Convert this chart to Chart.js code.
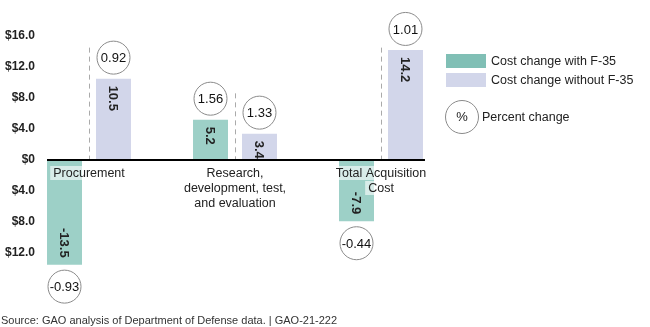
<!DOCTYPE html>
<html>
<head>
<meta charset="utf-8">
<script src="https://cdn.jsdelivr.net/npm/chart.js@4"></script>
<style>
  html, body { margin: 0; padding: 0; background: #fff; }
  #wrap { width: 650px; height: 327px; position: relative; }
</style>
</head>
<body>
<div id="wrap"><canvas id="c"></canvas></div>
<script>
// ---- data ----
const categories = [["Procurement"], ["Research,", "development, test,", "and evaluation"], ["Total Acquisition", "Cost"]];
const seriesNames = ["Cost change with F-35", "Cost change without F-35"];
const withF35 = [-13.5, 5.2, -7.9];
const withoutF35 = [10.5, 3.4, 14.2];
const pctWithF35 = [-0.93, 1.56, -0.44];
const pctWithoutF35 = [0.92, 1.33, 1.01];
const yTicks = [-12, -8, -4, 0, 4, 8, 12, 16];
const dividerTop = [14.5, 8.6, 14.5];
const percentLegend = "Percent change";
const sourceNote = "Source: GAO analysis of Department of Defense data. | GAO-21-222";

// ---- styles ----
const FONT = "'Liberation Sans', Arial, Helvetica, sans-serif";
const tealBar = '#9dd0c7';
const tealKey = '#80bfb5';
const lavBar = '#d2d6ea';
const lavKey = '#d2d6ea';

Chart.defaults.font.family = FONT;
Chart.defaults.color = '#222';

const pctSets = [pctWithF35, pctWithoutF35];
const fmtTick = (v) => v === 0 ? '$0' : '$' + Math.abs(v).toFixed(1);

const overlay = {
  id: 'overlay',
  afterDatasetsDraw(chart) {
    const ctx = chart.ctx;
    const xs = chart.scales.x, ys = chart.scales.y;
    const y0 = ys.getPixelForValue(0);
    ctx.save();

    // y tick labels (right-aligned, left of the zero line start)
    ctx.font = "bold 12px " + FONT;
    ctx.fillStyle = '#222';
    ctx.textAlign = 'right';
    ctx.textBaseline = 'middle';
    ys.ticks.forEach(t => {
      ctx.fillText(fmtTick(t.value), ys.right + 19, ys.getPixelForValue(t.value));
    });

    // zero line spanning the bars
    let minL = Infinity, maxR = -Infinity;
    chart.data.datasets.forEach((ds, di) => {
      chart.getDatasetMeta(di).data.forEach(el => {
        minL = Math.min(minL, el.x - el.width / 2);
        maxR = Math.max(maxR, el.x + el.width / 2);
      });
    });
    ctx.strokeStyle = '#000';
    ctx.lineWidth = 2;
    ctx.beginPath();
    ctx.moveTo(minL, Math.round(y0));
    ctx.lineTo(maxR + 2, Math.round(y0));
    ctx.stroke();

    // dashed dividers
    ctx.strokeStyle = '#aaaaaa';
    ctx.lineWidth = 1;
    ctx.setLineDash([5, 4]);
    categories.forEach((c, i) => {
      const x = Math.round(xs.getPixelForValue(i)) + 0.5;
      ctx.beginPath();
      ctx.moveTo(x, ys.getPixelForValue(dividerTop[i]));
      ctx.lineTo(x, y0 - 1);
      ctx.stroke();
    });
    ctx.setLineDash([]);

    // value labels in bars + percent circles
    chart.data.datasets.forEach((ds, di) => {
      const meta = chart.getDatasetMeta(di);
      meta.data.forEach((el, i) => {
        const v = ds.data[i];
        const pos = v >= 0;
        ctx.save();
        ctx.font = "bold 13px " + FONT;
        ctx.fillStyle = '#222';
        ctx.translate(el.x, pos ? el.y + 7 : el.y - 7);
        ctx.rotate(Math.PI / 2);
        ctx.textAlign = pos ? 'left' : 'right';
        ctx.textBaseline = 'middle';
        ctx.fillText(v.toFixed(1), 0, 1);
        ctx.restore();
        const cy = pos ? el.y - 21 : el.y + 22;
        ctx.beginPath();
        ctx.arc(el.x, cy, 16.5, 0, Math.PI * 2);
        ctx.fillStyle = '#fff';
        ctx.fill();
        ctx.strokeStyle = '#8a8a8a';
        ctx.lineWidth = 1;
        ctx.stroke();
        ctx.font = "13px " + FONT;
        ctx.fillStyle = '#111';
        ctx.textAlign = 'center';
        ctx.textBaseline = 'middle';
        ctx.fillText(pctSets[di][i].toFixed(2), el.x, cy + 1);
      });
    });

    // category labels with per-line backdrops
    ctx.font = "12.5px " + FONT;
    ctx.textAlign = 'center';
    ctx.textBaseline = 'middle';
    categories.forEach((lines, i) => {
      const x = xs.getPixelForValue(i);
      lines.forEach((ln, k) => {
        const y = y0 + 13 + k * 15;
        const w = ctx.measureText(ln).width;
        ctx.fillStyle = 'rgba(255,255,255,0.6)';
        ctx.fillRect(x - w / 2 - 3, y - 7, w + 6, 14);
        ctx.fillStyle = '#222';
        ctx.fillText(ln, x, y + 0.5);
      });
    });

    // legend
    const keyColors = [tealKey, lavKey];
    ctx.textAlign = 'left';
    ctx.textBaseline = 'middle';
    ctx.font = "12.5px " + FONT;
    seriesNames.forEach((nm, k) => {
      const ty = 54 + k * 19;
      ctx.fillStyle = keyColors[k];
      ctx.fillRect(446, ty, 40, 14);
      ctx.fillStyle = '#222';
      ctx.fillText(nm, 491, ty + 7.5);
    });
    ctx.beginPath();
    ctx.arc(462, 117, 16.5, 0, Math.PI * 2);
    ctx.strokeStyle = '#8a8a8a';
    ctx.lineWidth = 1;
    ctx.stroke();
    ctx.fillStyle = '#222';
    ctx.textAlign = 'center';
    ctx.font = "13px " + FONT;
    ctx.fillText('%', 462, 117.5);
    ctx.textAlign = 'left';
    ctx.font = "12.5px " + FONT;
    ctx.fillText(percentLegend, 482, 117.5);

    // source note
    ctx.font = "11px " + FONT;
    ctx.fillStyle = '#333';
    ctx.textBaseline = 'alphabetic';
    ctx.fillText(sourceNote, 1, 324);
    ctx.restore();
  }
};

new Chart(document.getElementById('c'), {
  type: 'bar',
  data: {
    labels: categories,
    datasets: [
      { label: seriesNames[0], data: withF35, backgroundColor: tealBar, borderWidth: 0 },
      { label: seriesNames[1], data: withoutF35, backgroundColor: lavBar, borderWidth: 0 }
    ]
  },
  options: {
    responsive: true,
    maintainAspectRatio: false,
    animation: false,
    events: [],
    categoryPercentage: 0.671,
    barPercentage: 0.714,
    layout: { padding: { left: 0, right: 196, top: 36, bottom: 58.5 } },
    plugins: { legend: { display: false }, tooltip: { enabled: false } },
    scales: {
      x: {
        type: 'category',
        offset: true,
        display: false
      },
      y: {
        min: -14,
        max: 16,
        afterBuildTicks: (s) => { s.ticks = yTicks.map(v => ({ value: v })); },
        afterFit: (s) => { s.width = 16; },
        border: { display: false },
        grid: { display: false, drawTicks: false },
        ticks: { display: false, callback: fmtTick }
      }
    }
  },
  plugins: [overlay]
});
</script>
</body>
</html>
